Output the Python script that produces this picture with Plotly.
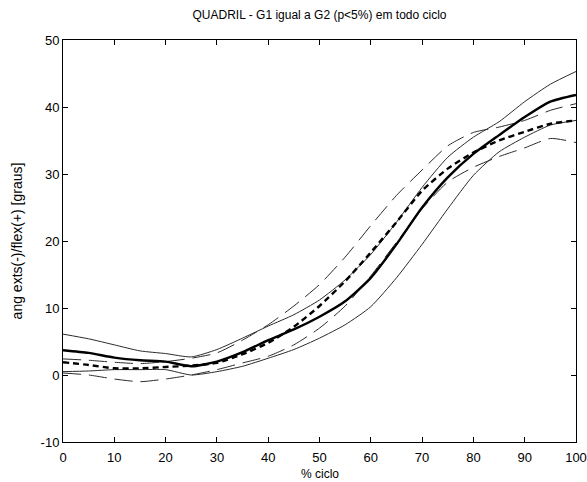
import plotly.graph_objects as go

# % of cycle
ciclo = [0, 5, 10, 15, 20, 25, 30, 35, 40, 45, 50, 55, 60, 65, 70, 75, 80, 85, 90, 95, 100]

# G1 (solid lines)
g1_mean  = [3.7, 3.3, 2.6, 2.2, 2.0, 1.3, 2.0, 3.4, 5.2, 6.8, 8.7, 11.0, 14.5, 19.5, 25.0, 29.5, 33.0, 35.8, 38.5, 40.8, 41.8]
g1_upper = [6.1, 5.4, 4.5, 3.6, 3.2, 2.7, 3.8, 5.5, 7.3, 9.0, 11.2, 14.2, 18.0, 22.8, 28.0, 32.5, 35.5, 37.8, 40.8, 43.4, 45.3]
g1_lower = [0.5, 0.6, 0.8, 0.8, 0.8, 0.0, 0.5, 1.3, 2.5, 3.8, 5.5, 7.5, 10.2, 14.5, 19.5, 24.8, 29.8, 33.3, 35.5, 37.3, 38.0]

# G2 (dashed lines)
g2_mean  = [1.9, 1.5, 1.0, 1.0, 1.2, 1.4, 1.8, 3.1, 4.8, 7.2, 10.3, 14.0, 18.3, 22.8, 27.5, 30.8, 33.2, 35.0, 36.3, 37.5, 38.0]
g2_upper = [2.4, 2.2, 1.9, 1.7, 2.0, 2.5, 3.3, 5.2, 7.5, 10.3, 13.5, 17.6, 22.3, 26.8, 30.6, 34.2, 36.2, 37.0, 38.0, 39.5, 40.5]
g2_lower = [0.3, 0.0, -0.6, -1.0, -0.6, 0.0, 0.8, 1.8, 2.8, 4.5, 7.0, 10.3, 14.8, 19.8, 24.8, 28.8, 31.0, 32.6, 33.9, 35.3, 34.7]

x_ticks = [0, 10, 20, 30, 40, 50, 60, 70, 80, 90, 100]
y_ticks = [-10, 0, 10, 20, 30, 40, 50]

FONT = "Liberation Sans, Arial, sans-serif"

fig = go.Figure()

thin = dict(color="#2a2a2a", width=1, shape="spline", smoothing=0.6)
fig.add_trace(go.Scatter(x=ciclo, y=g1_upper, mode="lines", line=dict(**thin)))
fig.add_trace(go.Scatter(x=ciclo, y=g1_lower, mode="lines", line=dict(**thin)))
fig.add_trace(go.Scatter(x=ciclo, y=g2_upper, mode="lines", line=dict(**thin, dash="18px,8px")))
fig.add_trace(go.Scatter(x=ciclo, y=g2_lower, mode="lines", line=dict(**thin, dash="18px,8px")))
fig.add_trace(go.Scatter(x=ciclo, y=g1_mean, mode="lines",
                         line=dict(color="black", width=2.4, shape="spline", smoothing=0.6)))
fig.add_trace(go.Scatter(x=ciclo, y=g2_mean, mode="lines",
                         line=dict(color="black", width=2.4, dash="6px,4px", shape="spline", smoothing=0.6)))

axis_common = dict(
    showgrid=False, zeroline=False, showline=True, linecolor="black", linewidth=1,
    mirror="allticks", ticks="inside", ticklen=5, tickcolor="black",
    tickfont=dict(family=FONT, size=13, color="black"),
)

fig.update_layout(
    width=587, height=482,
    margin=dict(l=63, r=11, t=40, b=40),
    paper_bgcolor="white", plot_bgcolor="white",
    showlegend=False,
    font=dict(family=FONT, size=12, color="black"),
    title=dict(text="QUADRIL - G1 igual a G2 (p<5%) em todo ciclo",
               x=(63 + 576) / 2 / 587, xanchor="center",
               y=1 - 15 / 482, yanchor="middle", yref="container",
               font=dict(family=FONT, size=12, color="black")),
    xaxis=dict(range=[0, 100], tickvals=x_ticks, ticktext=[str(v) for v in x_ticks],
               ticklabelstandoff=3,
               automargin=False, **axis_common),
    yaxis=dict(range=[-10, 50], tickvals=y_ticks, ticktext=[str(v) for v in y_ticks],
               title=dict(text="ang exts(-)/flex(+) [graus]", standoff=14, font=dict(family=FONT, size=14)),
               automargin=False, **axis_common),
    annotations=[dict(text="% ciclo", xref="paper", yref="paper", x=0.5, y=-32 / 402,
                      xanchor="center", yanchor="middle", showarrow=False,
                      font=dict(family=FONT, size=12, color="black"))],
)

fig.write_html("out.html")
